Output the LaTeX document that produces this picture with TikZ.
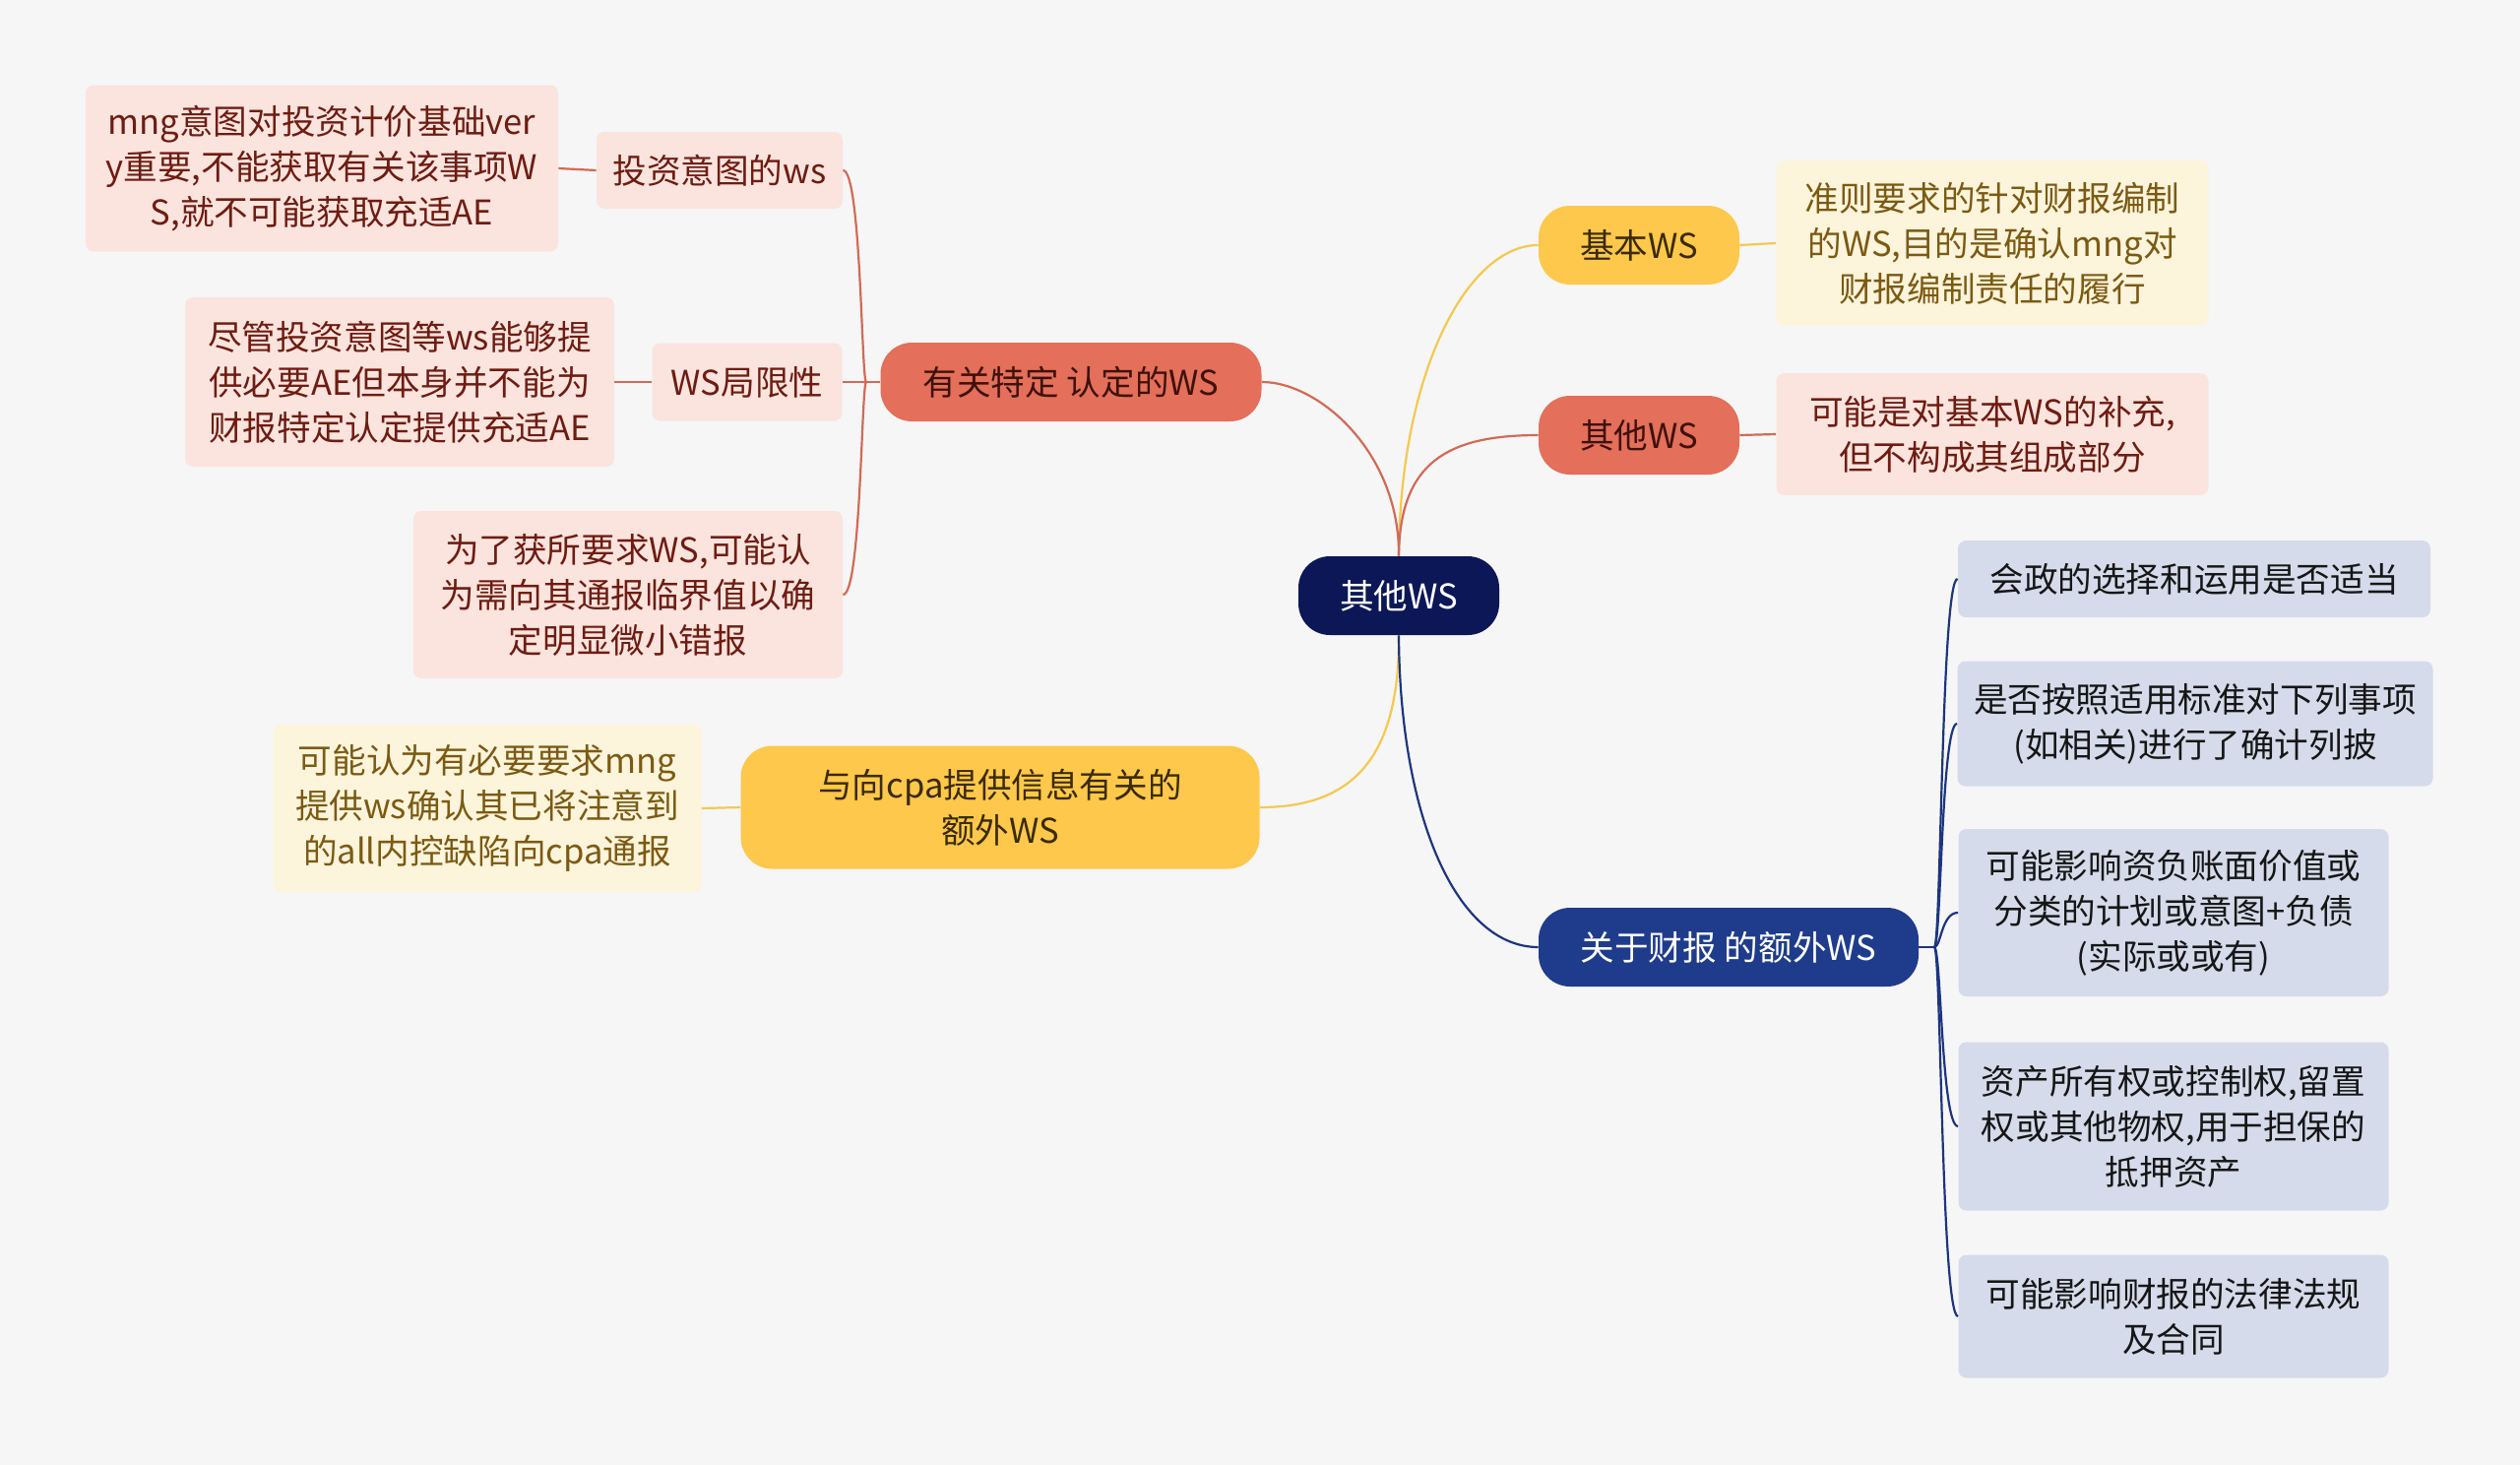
\documentclass[tikz,border=0pt]{standalone}
\usepackage{fontspec}
\setmainfont{Noto Sans CJK SC}
\definecolor{bgc}{HTML}{F6F6F6}
\definecolor{ynode}{HTML}{FDC84B}
\definecolor{yleaf}{HTML}{FDF4DC}
\definecolor{ytext}{HTML}{7B5A12}
\definecolor{yline}{HTML}{F5C84E}
\definecolor{rnode}{HTML}{E46F5A}
\definecolor{rleaf}{HTML}{FBE4DE}
\definecolor{rtext}{HTML}{6E1C12}
\definecolor{rline}{HTML}{D26A56}
\definecolor{rootc}{HTML}{0C1757}
\definecolor{bnode}{HTML}{1F3C8C}
\definecolor{bleaf}{HTML}{D5DBEA}
\definecolor{btext}{HTML}{161616}
\definecolor{bline}{HTML}{1D357F}
\definecolor{dkbrown}{HTML}{3A2B00}
\definecolor{dkred}{HTML}{3E120A}
\begin{document}
\begin{tikzpicture}[x=0.5pt,y=-0.5pt,
  base/.style={inner sep=0pt, align=center, font=\fontsize{17.3pt}{23pt}\selectfont},
  mainbox/.style={base, rounded corners=16pt},
  leafbox/.style={base, rounded corners=4pt},
  ymain/.style={mainbox, fill=ynode, text=dkbrown},
  rmain/.style={mainbox, fill=rnode, text=dkred},
  bmain/.style={mainbox, fill=bnode, text=white},
  yl/.style={leafbox, fill=yleaf, text=ytext},
  rl/.style={leafbox, fill=rleaf, text=rtext},
  bl/.style={leafbox, fill=bleaf, text=btext},
  ycon/.style={draw=yline, line width=1.1pt},
  rcon/.style={draw=rline, line width=1.1pt},
  bcon/.style={draw=bline, line width=1.1pt}
]
\fill[bgc] (0,0) rectangle (2560,1488);
\useasboundingbox (0,0) rectangle (2560,1488);

% root
\node[mainbox, fill=rootc, text=white, minimum width=102pt, minimum height=40pt] (root) at (1421,605) {其他WS};

% right side
\node[ymain, minimum width=102pt, minimum height=40pt] (jb) at (1665,249) {基本WS};
\node[yl, minimum width=219.5pt, minimum height=84pt] (jbl) at (2024,247) {准则要求的针对财报编制\\的WS,目的是确认mng对\\财报编制责任的履行};
\node[rmain, minimum width=102pt, minimum height=40pt] (qt) at (1665,442) {其他WS};
\node[rl, minimum width=219.5pt, minimum height=62pt] (qtl) at (2024,441) {可能是对基本WS的补充,\\但不构成其组成部分};
\node[bmain, minimum width=193pt, minimum height=40pt] (gy) at (1756,962) {关于财报 的额外WS};
\node[bl, minimum width=240pt, minimum height=39pt] (b1) at (2229,588) {会政的选择和运用是否适当};
\node[bl, minimum width=241.5pt, minimum height=63.5pt] (b2) at (2230,735) {是否按照适用标准对下列事项\\(如相关)进行了确计列披};
\node[bl, minimum width=218.5pt, minimum height=85pt] (b3) at (2208,927) {可能影响资负账面价值或\\分类的计划或意图+负债\\(实际或或有)};
\node[bl, minimum width=218.5pt, minimum height=85.5pt] (b4) at (2208,1144) {资产所有权或控制权,留置\\权或其他物权,用于担保的\\抵押资产};
\node[bl, minimum width=218.5pt, minimum height=62.5pt] (b5) at (2208,1337) {可能影响财报的法律法规\\及合同};

% left side
\node[rmain, minimum width=193.5pt, minimum height=40pt] (yg) at (1088,388) {有关特定 认定的WS};
\node[rl, minimum width=125pt, minimum height=39pt] (tz) at (731,173) {投资意图的ws};
\node[rl, minimum width=240pt, minimum height=84.5pt] (tzl) at (327,171) {mng意图对投资计价基础ver\\y重要,不能获取有关该事项W\\S,就不可能获取充适AE};
\node[rl, minimum width=96.5pt, minimum height=39.5pt] (jx) at (759,388) {WS局限性};
\node[rl, minimum width=218pt, minimum height=86pt] (jxl) at (406,388) {尽管投资意图等ws能够提\\供必要AE但本身并不能为\\财报特定认定提供充适AE};
\node[rl, minimum width=218pt, minimum height=85pt] (wl) at (638,604) {为了获所要求WS,可能认\\为需向其通报临界值以确\\定明显微小错报};
\node[ymain, minimum width=263.5pt, minimum height=62.5pt] (cpa) at (1016,820) {与向cpa提供信息有关的\\额外WS};
\node[yl, minimum width=217.5pt, minimum height=85pt] (cpal) at (495,821) {可能认为有必要要求mng\\提供ws确认其已将注意到\\的all内控缺陷向cpa通报};

% connectors from root
\draw[ycon] (root.north) .. controls (1422,380) and (1490,249) .. (jb.west);
\draw[rcon] (root.north) .. controls (1422,470) and (1470,442) .. (qt.west);
\draw[rcon] (root.north) .. controls (1422,460) and (1340,388) .. (yg.east);
\draw[ycon] (root.south) .. controls (1422,780) and (1365,820) .. (cpa.east);
\draw[bcon] (root.south) .. controls (1422,830) and (1480,962) .. (gy.west);

% right leaves
\draw[ycon] (jb.east) -- (jbl.west);
\draw[rcon] (qt.east) -- (qtl.west);
\coordinate (bh) at (1965,962);
\coordinate (bv) at (1972,962);
\draw[bcon] (gy.east) -- (bh);
\foreach \n in {b1,b2,b3,b4,b5}{
  \draw[bcon] (bh) .. controls (bv) and (bv |- \n.west) .. (\n.west);
}

% left leaves
\coordinate (lh) at (880,388);
\coordinate (lv) at (875,388);
\draw[rcon] (yg.west) -- (jx.east);
\draw[rcon] (lh) .. controls (lv) and (lv |- tz.east) .. (tz.east);
\draw[rcon] (lh) .. controls (lv) and (lv |- wl.east) .. (wl.east);
\draw[rcon] (tz.west) -- (tzl.east);
\draw[rcon] (jx.west) -- (jxl.east);
\draw[ycon] (cpa.west) -- (cpal.east);
\end{tikzpicture}
\end{document}
